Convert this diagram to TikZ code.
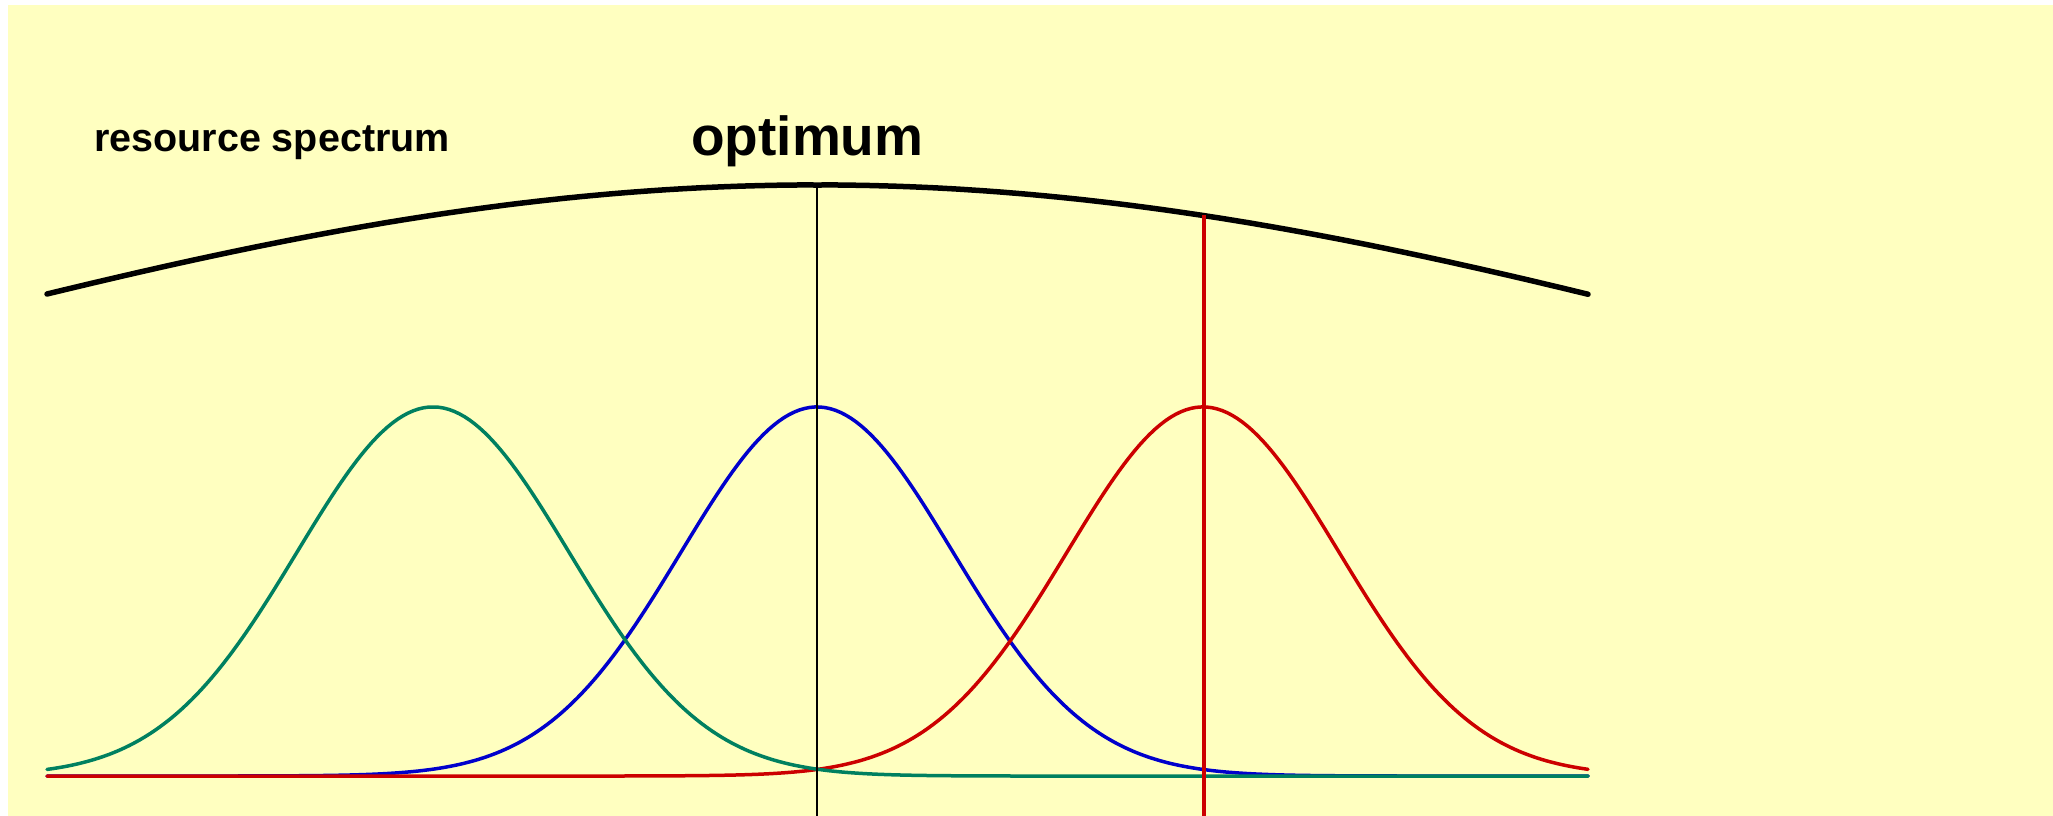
\documentclass[tikz,border=0pt]{standalone}
\usepackage{fontspec}
\setmainfont{Liberation Sans}
\usepackage{tikz}
\usetikzlibrary{positioning}
\definecolor{paper}{RGB}{255,255,192}
\definecolor{nichegreen}{RGB}{0,128,96}
\definecolor{nicheblue}{RGB}{0,0,204}
\definecolor{nichered}{RGB}{204,0,0}

\begin{document}
\begin{tikzpicture}[x=1pt, y=-1pt,
    niche/.style={line width=3.5pt, line cap=round},
    caption/.style={anchor=base west, inner sep=0pt, font=\bfseries}]
  \useasboundingbox (0,0) rectangle (2053,816);
  \fill[white] (0,0) rectangle (2053,816);
  \fill[paper] (8,5) rectangle (2053,816);
  % Resource spectrum
  \draw[line width=5.5pt, line cap=round] plot[domain=47:1588, samples=200]
    (\x, {185+109*(1-exp(-0.3*((\x-817)/770)^2))/(1-exp(-0.3))});
  % Three niches
  \foreach \c/\m in {nicheblue/817, nichered/1203, nichegreen/433} {
    \draw[niche, \c] plot[domain=47:1588, samples=300]
      (\x, {776-369*exp(-0.5*((\x-\m)/136)^2)});
  }
  % Optimum and shifted niche
  \coordinate (opt) at (817,185);
  \coordinate (shift) at (1204,215);
  \draw[line width=1.2pt] (opt) -- (opt |- 0,816);
  \draw[nichered, line width=4pt] (shift) -- (shift |- 0,816);
  \node[caption, font=\bfseries\fontsize{39.5}{42}\selectfont] (spectrum) at (94,151) {resource spectrum};
  \node[caption, font=\bfseries\fontsize{55}{58}\selectfont] (optimum) at (691,155) {optimum};
\end{tikzpicture}
\end{document}
